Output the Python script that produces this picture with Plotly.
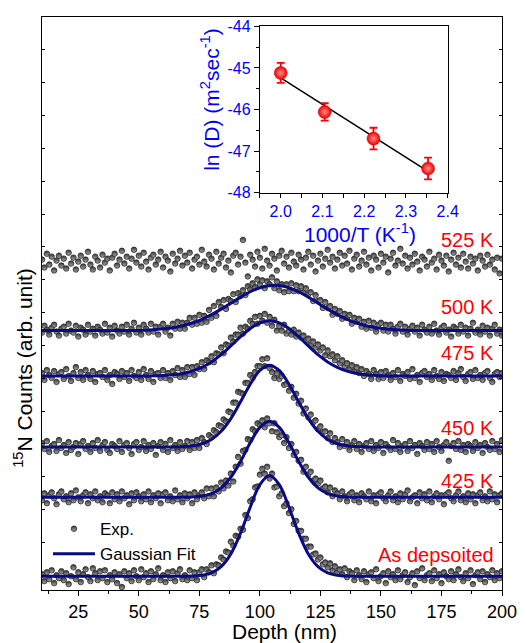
import numpy as np
import plotly.graph_objects as go

# ---------------- data (main panel) ----------------
depth_start = 10  # nm, first sample; samples every 1 nm
# measured 15N counts (arb. unit), baseline ~0, read off the picture
exp_asdep = [2, -5, 4, -3, 6, -7, 1, -2, 5, -4,
             3, -8, 0, 9, -3, 4, -6, 2, 7, -1,
             -5, 8, 3, -4, 5, -2, 6, -6, 1, -3,
             4, -7, 2, -11, 5, -2, 3, -5, 6, 0,
             -4, 7, -1, 3, -6, 5, -3, 2, 8, -4,
             1, -6, 4, -2, 5, -5, 3, 7, -3, 1,
             -4, 6, -2, 4, -4, 4, 7, -1, 7, 4,
             11, 3, 12, 11, 19, 17, 25, 24, 35, 31,
             41, 40, 48, 47, 62, 59, 76, 78, 90, 91,
             103, 109, 104, 111, 99, 104, 90, 91, 81, 84,
             71, 74, 64, 68, 53, 56, 46, 46, 38, 38,
             30, 30, 22, 23, 17, 19, 12, 14, 9, 13,
             6, 10, 4, 7, 2, 8, -1, 5, 3, -4,
             6, 1, -3, 5, -6, 2, 4, -2, 7, -5,
             0, 3, -7, 5, -1, 2, -4, 6, -3, 1,
             4, -6, -1, 3, -9, 5, -2, 8, -4, 1,
             3, -5, 6, -2, 2, -7, 4, 0, -3, 5,
             -4, 2, 7, -1, -5, 3, -2, 6, -8, 1,
             4, -3, 5, -6, 2, -1, 6, -4, 3, -2,
             5]
exp_425 = [-3, 4, -6, 2, 5, -1, -7, 3, 6, -2,
           1, -5, 4, -3, 7, 0, -4, 2, 5, -6,
           3, -1, 6, -3, 1, -5, 4, 2, -6, 5,
           -2, 3, -4, 6, -1, 2, -7, 4, -3, 5,
           1, -4, 3, -2, 6, -5, 2, -1, 4, -6,
           3, 5, -3, 1, -4, 7, -2, 2, -5, 4,
           -1, 3, -6, 5, -2, 2, 5, -1, 9, 1,
           9, 1, 10, 6, 15, 9, 17, 12, 24, 16,
           31, 41, 34, 47, 48, 59, 58, 69, 67, 75,
           73, 78, 71, 80, 75, 67, 75, 66, 61, 63,
           55, 61, 50, 54, 43, 46, 37, 38, 26, 31,
           23, 26, 17, 19, 14, 17, 9, 11, 5, 10,
           1, 7, 4, -2, 6, 1, -4, 3, 5, -3,
           2, -5, 4, 1, -2, 6, -4, 2, -6, 3,
           5, -1, -4, 2, 6, -3, 1, -5, 4, -2,
           3, 7, -4, 0, 2, -6, 5, -1, 3, -3,
           6, -5, 1, 4, -2, 2, -7, 3, 5, -1,
           -4, 2, 6, -3, 1, -5, 4, -2, 3, -6,
           2, 5, -3, 1, -4, 6, -2, 3, -5, 2,
           4]
exp_450 = [4, -2, 6, -5, 1, 3, -4, 7, -1, 2,
           -6, 5, -3, 0, 4, -7, 3, 6, -2, 1,
           -5, 4, -1, 7, -4, 2, 5, -3, -6, 3,
           1, -2, 6, -5, 2, 4, -1, -7, 3, 5,
           -3, 0, 6, -4, 2, -2, 4, -8, 1, 5,
           -3, 3, -5, 7, -1, 2, -4, 5, -2, 1,
           6, -3, 5, -1, 7, -1, 9, 5, 3, 12,
           10, 17, 15, 22, 21, 28, 26, 36, 35, 45,
           45, 56, 55, 54, 65, 65, 73, 70, 76, 82,
           82, 89, 82, 90, 80, 76, 70, 75, 69, 72,
           63, 64, 57, 61, 50, 54, 44, 47, 34, 39,
           30, 33, 25, 27, 18, 21, 15, 16, 9, 14,
           5, 9, 5, 0, 8, 1, 5, -3, 2, 6,
           -2, 3, -5, 1, 4, -2, 6, -4, 2, -1,
           5, -6, 3, 0, -3, 7, -2, 4, -5, 1,
           3, -4, 6, -1, 2, -7, 4, 1, -3, 5,
           -2, 3, -5, 6, 0, -4, 2, 5, -14, 1,
           4, -2, 6, -3, 2, -5, 3, 1, -4, 5,
           -1, 2, -6, 4, 0, -3, 6, -2, 3, -5,
           7]
exp_475 = [3, -4, 6, 1, -2, 5, -6, 2, 4, -3,
           7, 0, -5, 3, 9, -2, 4, -4, 6, 1,
           -3, 5, -6, 2, 3, -1, 6, -4, 1, -8,
           4, 2, -3, 5, -1, 3, -5, 6, 0, -2,
           4, -4, 7, 1, -3, 5, -6, 2, 3, -2,
           6, -2, 3, -4, 5, 1, 8, -1, 6, -1,
           9, 2, 9, 1, 10, 7, 14, 7, 16, 14,
           20, 14, 23, 22, 29, 23, 32, 31, 39, 35,
           42, 42, 49, 43, 50, 48, 56, 53, 60, 53,
           61, 56, 63, 54, 60, 51, 57, 46, 51, 46,
           52, 43, 46, 42, 47, 40, 44, 39, 41, 36,
           38, 32, 35, 29, 32, 26, 29, 21, 26, 20,
           22, 16, 20, 13, 16, 10, 13, 7, 11, 5,
           9, 3, 7, 0, 5, 2, -3, 6, 2, -3,
           4, -2, 5, 1, -4, 3, -1, 6, -5, 2,
           0, 4, -3, 7, -2, 1, -6, 3, 5, -1,
           2, -4, 6, 0, -3, 4, -5, 2, 1, -2,
           5, -4, 3, 7, -1, -5, 2, 4, -3, 6,
           -2, 1, -4, 3, 5, -2, -6, 2, 4, -1,
           3]
exp_500 = [-2, 5, 1, -4, 3, 6, -1, -5, 2, 4,
           -3, 7, 0, -2, 5, -6, 3, 1, -4, 6,
           -1, 2, -5, 4, 1, -3, 7, -2, 3, -6,
           5, 0, -3, 4, -1, 6, -4, 2, 8, -2,
           3, -4, 6, 2, -2, 7, -1, 4, -4, 4,
           7, -1, 3, -5, 7, 2, 9, 2, 8, 2,
           8, 13, 6, 13, 7, 16, 8, 15, 9, 21,
           13, 25, 15, 29, 24, 31, 22, 32, 30, 37,
           29, 38, 35, 41, 36, 45, 42, 48, 44, 52,
           47, 51, 43, 50, 47, 54, 43, 50, 41, 47,
           39, 47, 40, 48, 40, 46, 40, 45, 39, 43,
           37, 39, 30, 36, 30, 31, 23, 29, 23, 25,
           16, 22, 17, 20, 12, 17, 13, 16, 7, 13,
           9, 12, 4, 9, 2, 10, 3, 8, -1, 6,
           8, 0, 6, -1, 6, 2, -3, 4, 7, -1,
           4, -4, 2, 5, -1, 3, -5, 6, 1, -2,
           4, -3, 7, 0, -4, 3, 5, -2, 1, -6,
           4, 2, -3, 6, -1, 3, -5, 2, 8, -2,
           1, -4, 5, -1, 3, -5, 2, 6, -3, 1,
           -5]
exp_525 = [2, -6, 8, -3, 5, -9, 1, 6, -4, 3,
           -7, 9, -2, 4, -8, 0, 6, -5, 2, 10,
           -3, -8, 5, 1, -6, 7, -1, 3, -9, 4,
           8, -4, 2, 11, -2, 5, -7, 3, 12, -1,
           6, -5, 9, 0, -8, 4, 7, -3, 2, 10,
           -6, 5, 1, -10, 8, -2, 3, 11, -4, 6,
           -1, 9, -7, 2, 5, -3, 12, 0, -5, 7,
           3, -8, 10, -2, 4, 8, -6, 1, -11, 6,
           9, -3, 5, 22, -1, -15, 7, 2, -5, 10,
           4, -7, 13, 1, -4, 8, 3, -9, 6, 11,
           -2, 5, -6, 9, 0, -4, 7, 2, -8, 4,
           10, -3, 6, -10, 1, 8, -5, 3, 12, -1,
           5, -7, 2, 9, -4, 6, -2, 11, -8, 3,
           7, -5, 1, 10, -3, 4, -9, 6, 2, -6,
           8, -1, 5, -11, 3, 9, -4, 1, 13, -2,
           6, -7, 4, -3, 8, 0, -9, 5, 2, -5,
           10, -1, 3, -8, 7, 1, -4, 6, -10, 2,
           9, -3, 4, -6, 8, 0, -7, 5, -2, 3,
           -9, 6, 1, -5, 7, -3, 2, -8, 4, -12,
           3]

# Gaussian fit curves, sampled every 4 nm from 8 nm to 200 nm
fit_depth = list(range(8, 201, 4))
fit_asdep = [0, 0, 0, 0, 0, 0, 0, 0, 0, 0, 0, 0, 0, 0, 0, 0,
             0.2, 1.0, 3.4, 9.6, 22.5, 43.6, 69.9, 92.8, 102, 92.8, 69.9, 43.6, 22.5, 9.6, 3.4, 1.0, 0.2,
             0, 0, 0, 0, 0, 0, 0, 0, 0, 0, 0, 0, 0, 0, 0, 0]
fit_425 = [0, 0, 0, 0, 0, 0, 0, 0, 0, 0, 0, 0, 0, 0, 0,
           0.1, 0.4, 1.3, 3.8, 9.6, 20.3, 36.4, 55.2, 70.9, 77, 70.9, 55.2, 36.4, 20.3, 9.6, 3.8, 1.3, 0.4, 0.1,
           0, 0, 0, 0, 0, 0, 0, 0, 0, 0, 0, 0, 0, 0, 0]
fit_450 = [0, 0, 0, 0, 0, 0, 0, 0, 0, 0, 0, 0, 0, 0,
           0.1, 0.4, 1.2, 3.3, 7.7, 15.9, 28.8, 45.8, 63.7, 77.7, 83, 77.7, 63.7, 45.8, 28.8, 15.9, 7.7, 3.3, 1.2, 0.4, 0.1,
           0, 0, 0, 0, 0, 0, 0, 0, 0, 0, 0, 0, 0, 0]
fit_475 = [0, 0, 0, 0, 0, 0, 0, 0, 0, 0, 0, 0,
           0.2, 0.6, 1.2, 2.6, 4.9, 8.7, 14.2, 21.6, 30.5, 39.8, 48.1, 53.9, 56, 53.9, 48.1, 39.8, 30.5, 21.6,
           14.2, 8.7, 4.9, 2.6, 1.2, 0.6, 0.2,
           0, 0, 0, 0, 0, 0, 0, 0, 0, 0, 0, 0]
fit_500 = [0, 0, 0, 0, 0, 0, 0, 0, 0,
           0.1, 0.2, 0.5, 1.0, 1.8, 3.0, 5.0, 7.7, 11.5, 16.2, 21.8, 27.9, 34.0, 39.4, 43.5, 45.7, 45.7, 43.5,
           39.4, 34.0, 27.9, 21.8, 16.2, 11.5, 7.7, 5.0, 3.0, 1.8, 1.0, 0.5, 0.2, 0.1,
           0, 0, 0, 0, 0, 0, 0, 0]

sample_labels = ["As depsoited", "425 K", "450 K", "475 K", "500 K", "525 K"]
exp_series = [exp_asdep, exp_425, exp_450, exp_475, exp_500, exp_525]
fit_series = [fit_asdep, fit_425, fit_450, fit_475, fit_500, None]

# ---------------- data (inset) ----------------
anneal_T = [500, 475, 450, 425]          # K
lnD = [-45.12, -46.06, -46.70, -47.42]    # ln(m^2/s)
lnD_err = [0.24, 0.21, 0.26, 0.26]

# ---------------- layout constants ----------------
offsets = [14, 94, 145, 217, 263, 333]      # vertical stacking offsets
label_y = [36, 111, 164, 240, 287, 355]
FONT = "Liberation Sans, Arial, sans-serif"
BLUE = "#0000ff"
RED = "#ff0000"
NAVY = "#0a0a82"

fig = go.Figure()

for i, (data, off) in enumerate(zip(exp_series, offsets)):
    xs = [depth_start + k for k in range(len(data))]
    ys = [v + off for v in data]
    fig.add_trace(go.Scatter(
        x=xs, y=ys, mode="markers", name="Exp.",
        showlegend=(i == 0), legendgroup="exp",
        marker=dict(size=5.5, color="#363636",
                    line=dict(color="#262626", width=0.8),
                    gradient=dict(type="vertical", color="#a8a8a8")),
        hoverinfo="skip"))

for i, (fit, off) in enumerate(zip(fit_series, offsets)):
    if fit is None:
        continue
    fig.add_trace(go.Scatter(
        x=fit_depth, y=[v + off for v in fit], mode="lines",
        name="Gaussian Fit", showlegend=(i == 0), legendgroup="fit",
        line=dict(color=NAVY, width=3, shape="spline"),
        hoverinfo="skip"))

# inset
invT = [1000.0 / t for t in anneal_T]
slope, icpt = np.polyfit(invT, lnD, 1)
fit_x = [min(invT), max(invT)]
fit_y = [slope * v + icpt for v in fit_x]
fig.add_trace(go.Scatter(x=fit_x, y=fit_y, mode="lines", xaxis="x2", yaxis="y2",
                         line=dict(color="black", width=1.5), showlegend=False))
fig.add_trace(go.Scatter(
    x=invT, y=lnD, mode="markers", xaxis="x2", yaxis="y2", showlegend=False,
    error_y=dict(type="data", array=lnD_err, color=RED, thickness=1.8, width=4),
    marker=dict(size=13, color="#f00000", line=dict(color="#d00000", width=0.5),
                gradient=dict(type="radial", color="#ff8c8c"))))

annotations = []
for txt, ly in zip(sample_labels, label_y):
    annotations.append(dict(text=txt, x=0.988, xref="paper", xanchor="right",
                            y=ly, yref="y", yanchor="middle", showarrow=False,
                            font=dict(family=FONT, size=20, color=RED)))
annotations += [
    dict(text="<sup>15</sup>N Counts (arb. unit)", textangle=-90, x=-0.040, xref="paper",
         xanchor="center", y=0.387, yref="paper", yanchor="middle", showarrow=False,
         font=dict(family=FONT, size=21, color="black")),
    dict(text="Depth (nm)", x=0.528, xref="paper", xanchor="center", y=-0.0723, yref="paper",
         yanchor="middle", showarrow=False, font=dict(family=FONT, size=21, color="black")),
    dict(text="1000/T (K<sup>-1</sup>)", x=0.691, xref="paper", xanchor="center", y=0.623,
         yref="paper", yanchor="middle", showarrow=False,
         font=dict(family=FONT, size=21, color=BLUE)),
    dict(text="ln (D) (m<sup>2</sup>sec<sup>-1</sup>)", textangle=-90, x=0.365, xref="paper",
         xanchor="center", y=0.857, yref="paper", yanchor="middle", showarrow=False,
         font=dict(family=FONT, size=21, color=BLUE)),
]

inset_xt = [2.0, 2.1, 2.2, 2.3, 2.4]
inset_yt = [-48, -47, -46, -45, -44]

fig.update_layout(
    width=526, height=643,
    margin=dict(l=42, r=18, t=9, b=53),
    paper_bgcolor="white", plot_bgcolor="white",
    font=dict(family=FONT, color="black"),
    showlegend=True,
    legend=dict(x=0.013, y=0.1376, xanchor="left", yanchor="top",
                bgcolor="rgba(0,0,0,0)", font=dict(family=FONT, size=17),
                itemwidth=42, tracegroupgap=0, traceorder="normal"),
    xaxis=dict(range=[10, 200], tickvals=[25, 50, 75, 100, 125, 150, 175, 200],
               ticks="outside", ticklen=5, tickcolor="black",
               minor=dict(tick0=0, dtick=12.5, ticks="outside", ticklen=3, tickcolor="black"),
               showline=True, linecolor="black", linewidth=1, mirror=True,
               showgrid=False, zeroline=False, tickfont=dict(size=18)),
    yaxis=dict(range=[0, 581], tick0=14.9, dtick=33.3, ticks="inside", ticklen=3,
               tickcolor="black", showticklabels=False,
               showline=True, linecolor="black", linewidth=1, mirror="ticks",
               showgrid=False, zeroline=False),
    xaxis2=dict(domain=[0.4736, 0.882], anchor="y2", range=[1.95, 2.4],
                tickvals=inset_xt, ticktext=[f"{v:.1f}" for v in inset_xt],
                ticks="outside", ticklen=4, tickcolor="black",
                minor=dict(tick0=0, dtick=0.05, ticks="outside", ticklen=4, tickcolor="black"),
                showline=True, linecolor="black", linewidth=1, mirror=True,
                showgrid=False, zeroline=False, tickfont=dict(size=16, color=BLUE)),
    yaxis2=dict(domain=[0.6936, 0.9836], anchor="x2", range=[-48, -44],
                tickvals=inset_yt, ticktext=[f"-{abs(v)}" for v in inset_yt],
                ticks="outside", ticklen=5, tickcolor="black",
                minor=dict(tick0=0, dtick=0.5, ticks="outside", ticklen=3, tickcolor="black"),
                showline=True, linecolor="black", linewidth=1, mirror=True,
                showgrid=False, zeroline=False, tickfont=dict(size=16, color=BLUE)),
    annotations=annotations,
)

fig.write_html("out.html", config={"displayModeBar": False},
               post_script="document.body.style.margin='0px';document.body.style.overflow='hidden';")
